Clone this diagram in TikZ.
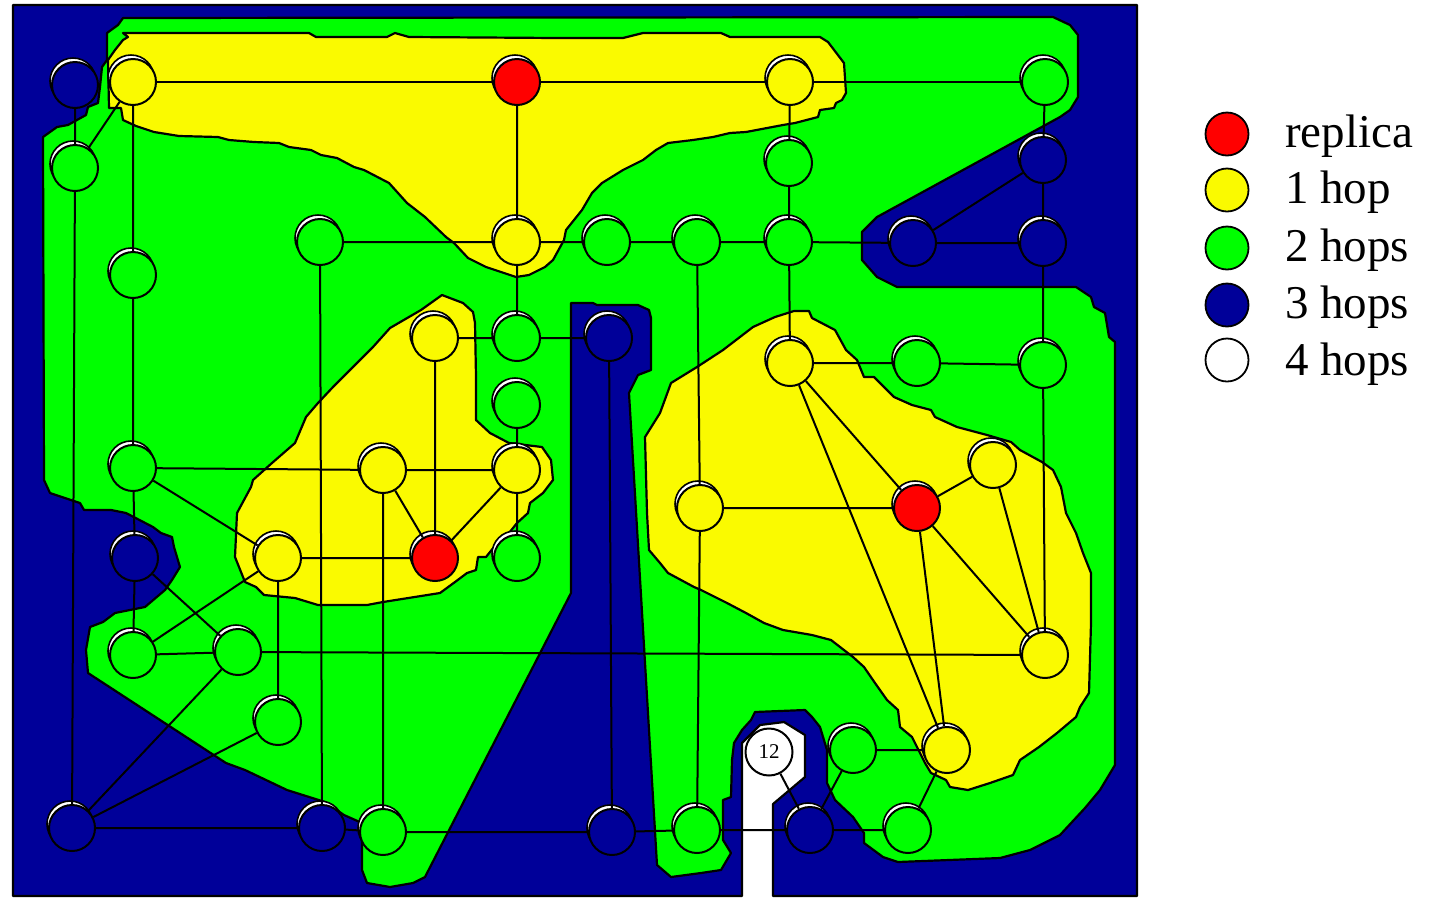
\documentclass[tikz,border=0pt]{standalone}
\usepackage{fontspec}
\setmainfont{Liberation Serif}
\usetikzlibrary{shadows}
\definecolor{cblue}{RGB}{0,0,153}
\definecolor{cgreen}{RGB}{0,255,0}
\definecolor{cyellow}{RGB}{250,250,0}
\definecolor{cred}{RGB}{255,0,0}
\pgfdeclarelayer{bg}
\pgfsetlayers{bg,main}
\tikzset{
  nd/.style={circle,draw=black,line width=2pt,minimum size=46pt,inner sep=0pt,
    general shadow={fill=white,draw=black,line width=1.6pt,shadow xshift=-2pt,shadow yshift=4pt}},
  rep/.style={nd,fill=cred},
  h1/.style={nd,fill=cyellow},
  h2/.style={nd,fill=cgreen},
  h3/.style={nd,fill=cblue},
  h4/.style={circle,draw=black,line width=2pt,minimum size=47pt,inner sep=0pt,fill=white,font=\fontsize{21pt}{23pt}\selectfont},
  edge/.style={draw=black,line width=2pt},
  region/.style={draw=black,line width=2.2pt,line join=round},
  leg/.style={circle,draw=black,line width=1.8pt,minimum size=43pt,inner sep=0pt},
  legtext/.style={anchor=west,font=\fontsize{47pt}{50pt}\selectfont,inner sep=0pt}
}
\begin{document}
\begin{tikzpicture}[x=1pt,y=-1pt]
\useasboundingbox (0,0) rectangle (1431,898);
\begin{pgfonlayer}{bg}
% blue frame
\path[region,fill=cblue] (13,5) -- (1137,5) -- (1137,896) -- (773,896) -- (773,804) -- (805,777) -- (805,735) -- (784,722) -- (760,725) -- (742,743) -- (742,896) -- (13,896) -- cycle;
% green
\path[region,fill=cgreen] (123,18) -- (1053,17) -- (1070,25) -- (1078,35) -- (1078,97) -- (1070,110) -- (1060,117) -- (877,217) -- (862,232) -- (862,260) -- (877,277) -- (897,287) -- (1076,287) -- (1091,297) -- (1094,307) -- (1105,313) -- (1109,337) -- (1115,342) -- (1115,765) -- (1100,790) -- (1085,808) -- (1060,835) -- (1030,850) -- (1000,858) -- (898,862) -- (883,857) -- (864,843) -- (864,833) -- (853,817) -- (835,800) -- (827,783) -- (827,750) -- (820,727) -- (812,717) -- (805,710) -- (755,712) -- (751,720) -- (742,730) -- (734,743) -- (732,760) -- (731,797) -- (723,800) -- (723,840) -- (731,853) -- (721,870) -- (701,873) -- (671,877) -- (657,865) -- (629,393) -- (634,383) -- (638,375) -- (651,370) -- (651,318) -- (649,310) -- (638,305) -- (597,305) -- (593,303) -- (571,303) -- (571,593) -- (425,877) -- (413,883) -- (390,887) -- (367,883) -- (362,870) -- (362,823) -- (344,815) -- (325,802) -- (287,790) -- (245,770) -- (226,763) -- (88,673) -- (86,650) -- (90,627) -- (103,622) -- (115,613) -- (145,607) -- (165,590) -- (172,580) -- (180,567) -- (174,547) -- (172,537) -- (161,533) -- (153,527) -- (126,513) -- (111,510) -- (84,510) -- (80,503) -- (50,493) -- (44,480) -- (43,137) -- (57,127) -- (68,125) -- (86,115) -- (88,107) -- (98,103) -- (100,87) -- (102,67) -- (107,60) -- (107,33) -- (118,25) -- cycle;
% yellow top
\path[region,fill=cyellow] (123,33) -- (309,33) -- (316,37) -- (387,37) -- (395,33) -- (409,37) -- (557,38) -- (623,38) -- (643,33) -- (721,33) -- (730,37) -- (820,37) -- (828,42) -- (844,63) -- (846,93) -- (842,100) -- (836,103) -- (834,108) -- (820,110) -- (818,117) -- (795,123) -- (783,125) -- (746,132) -- (730,133) -- (713,137) -- (693,140) -- (668,143) -- (656,150) -- (643,160) -- (623,170) -- (602,183) -- (592,193) -- (582,210) -- (566,230) -- (564,240) -- (553,260) -- (545,267) -- (529,275) -- (516,277) -- (486,267) -- (468,258) -- (454,243) -- (446,237) -- (425,217) -- (407,203) -- (389,183) -- (364,170) -- (354,167) -- (337,158) -- (321,155) -- (311,150) -- (289,147) -- (279,143) -- (254,142) -- (229,140) -- (218,137) -- (179,136) -- (154,132) -- (136,126) -- (123,120) -- (121,108) -- (109,108) -- (108,60) -- (115,50) -- (123,40) -- (128,37) -- cycle;
% yellow left
\path[region,fill=cyellow] (442,295) -- (463,303) -- (473,312) -- (475,323) -- (476,377) -- (476,420) -- (490,433) -- (509,443) -- (542,447) -- (551,460) -- (553,480) -- (543,493) -- (530,503) -- (528,513) -- (517,523) -- (509,533) -- (494,547) -- (486,557) -- (478,557) -- (476,570) -- (467,573) -- (455,582) -- (440,593) -- (383,602) -- (367,605) -- (318,605) -- (295,598) -- (264,595) -- (256,587) -- (245,582) -- (235,557) -- (237,513) -- (251,487) -- (253,480) -- (272,463) -- (295,443) -- (306,417) -- (318,403) -- (333,387) -- (360,360) -- (373,347) -- (390,328) -- (421,310) -- cycle;
% yellow right
\path[region,fill=cyellow] (794,311) -- (809,311) -- (812,318) -- (835,330) -- (846,350) -- (857,360) -- (864,377) -- (874,377) -- (894,397) -- (912,405) -- (931,410) -- (935,417) -- (957,427) -- (987,435) -- (1011,442) -- (1020,450) -- (1042,462) -- (1053,470) -- (1061,487) -- (1066,513) -- (1076,533) -- (1083,553) -- (1091,573) -- (1091,623) -- (1089,693) -- (1080,707) -- (1076,717) -- (1057,733) -- (1039,747) -- (1020,760) -- (1013,775) -- (990,783) -- (968,790) -- (950,787) -- (946,780) -- (931,773) -- (925,763) -- (912,737) -- (900,727) -- (898,710) -- (887,700) -- (875,683) -- (864,667) -- (853,657) -- (831,640) -- (812,635) -- (783,630) -- (764,623) -- (746,613) -- (727,603) -- (701,590) -- (694,587) -- (668,573) -- (660,563) -- (649,550) -- (647,513) -- (645,437) -- (660,413) -- (671,383) -- (697,367) -- (723,350) -- (753,327) -- (775,317) -- cycle;
\end{pgfonlayer}
% nodes
\node[h3] (n1) at (75,85) {};
\node[h1] (n2) at (133,82) {};
\node[rep] (n3) at (517,82) {};
\node[h1] (n4) at (790,82) {};
\node[h2] (n5) at (1045,82) {};
\node[h2] (n6) at (75,168) {};
\node[h2] (n7) at (789,163) {};
\node[h3] (n8) at (1043,160) {};
\node[h2] (n9) at (320,242) {};
\node[h1] (n10) at (517,242) {};
\node[h2] (n11) at (607,242) {};
\node[h2] (n12) at (697,242) {};
\node[h2] (n13) at (789,242) {};
\node[h3] (n14) at (913,243) {};
\node[h3] (n15) at (1043,243) {};
\node[h2] (n16) at (133,275) {};
\node[h1] (n17) at (435,338) {};
\node[h2] (n18) at (517,338) {};
\node[h3] (n19) at (609,338) {};
\node[h1] (n20) at (790,363) {};
\node[h2] (n21) at (917,363) {};
\node[h2] (n22) at (1043,365) {};
\node[h2] (n23) at (517,405) {};
\node[h2] (n24) at (133,468) {};
\node[h1] (n25) at (383,470) {};
\node[h1] (n26) at (517,470) {};
\node[h1] (n27) at (993,465) {};
\node[h1] (n28) at (700,508) {};
\node[rep] (n29) at (917,508) {};
\node[h3] (n30) at (135,558) {};
\node[h1] (n31) at (278,558) {};
\node[rep] (n32) at (435,558) {};
\node[h2] (n33) at (517,558) {};
\node[h2] (n34) at (133,655) {};
\node[h2] (n35) at (238,652) {};
\node[h1] (n36) at (1045,655) {};
\node[h2] (n37) at (278,722) {};
\node[h4] (n38) at (769,752) {12};
\node[h2] (n39) at (853,750) {};
\node[h1] (n40) at (947,750) {};
\node[h3] (n41) at (72,828) {};
\node[h3] (n42) at (322,828) {};
\node[h2] (n43) at (383,832) {};
\node[h3] (n44) at (612,832) {};
\node[h2] (n45) at (697,830) {};
\node[h3] (n46) at (810,830) {};
\node[h2] (n47) at (908,830) {};
% edges
\draw[edge] (n2)--(n3) (n3)--(n4) (n4)--(n5);
\draw[edge] (n1)--(n6) (n2)--(n6) (n2)--(n16) (n6)--(n41);
\draw[edge] (n3)--(n10) (n4)--(n7) (n7)--(n13);
\draw[edge] (n5)--(n8) (n8)--(n15) (n8)--(n14) (n15)--(n22) (n22)--(n36);
\draw[edge] (n9)--(n10) (n10)--(n11) (n11)--(n12) (n12)--(n13) (n13)--(n14) (n14)--(n15);
\draw[edge] (n9)--(n42) (n10)--(n18) (n12)--(n28) (n28)--(n45) (n13)--(n20) (n16)--(n24);
\draw[edge] (n17)--(n18) (n18)--(n19) (n17)--(n32) (n19)--(n44);
\draw[edge] (n20)--(n21) (n21)--(n22) (n20)--(n29) (n20)--(n40);
\draw[edge] (n23)--(n26) (n24)--(n25) (n25)--(n26) (n24)--(n30) (n24)--(n31);
\draw[edge] (n25)--(n32) (n25)--(n43) (n26)--(n32) (n26)--(n33);
\draw[edge] (n27)--(n29) (n27)--(n36) (n28)--(n29) (n29)--(n36) (n29)--(n40);
\draw[edge] (n30)--(n34) (n30)--(n35) (n31)--(n32) (n31)--(n34) (n31)--(n37);
\draw[edge] (n34)--(n35) (n35)--(n36) (n35)--(n41) (n37)--(n41);
\draw[edge] (n38)--(n46) (n39)--(n46) (n39)--(n40) (n40)--(n47);
\draw[edge] (n41)--(n42) (n42)--(n43) (n43)--(n44) (n44)--(n45) (n45)--(n46) (n46)--(n47);
% legend
\node[leg,fill=cred] (l1) at (1227,134) {};
\node[leg,fill=cyellow] (l2) at (1227,190) {};
\node[leg,fill=cgreen] (l3) at (1227,248) {};
\node[leg,fill=cblue] (l4) at (1227,305) {};
\node[leg,fill=white] (l5) at (1227,360) {};
\node[legtext] (t1) at (1285,136) {replica};
\node[legtext] (t2) at (1285,192) {1 hop};
\node[legtext] (t3) at (1285,250) {2 hops};
\node[legtext] (t4) at (1285,307) {3 hops};
\node[legtext] (t5) at (1285,364) {4 hops};
\end{tikzpicture}
\end{document}
